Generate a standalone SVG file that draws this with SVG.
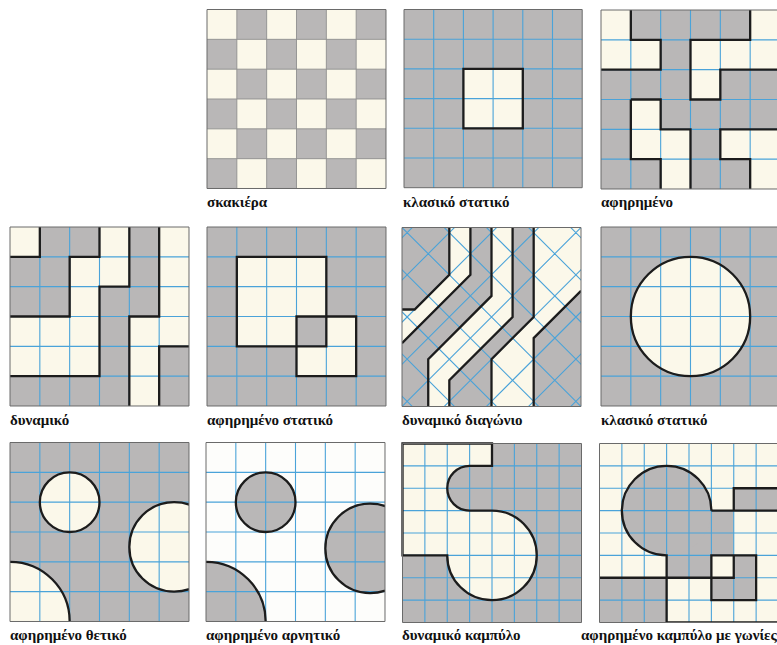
<svg xmlns="http://www.w3.org/2000/svg" width="777" height="645" viewBox="0 0 777 645">
<style>
.g{fill:#b9b7b7}
.c{fill:#fbf8ea}
.w{fill:#fdfdfb}
.bl{fill:none;stroke:#4aa3d9;stroke-width:1.1}
.cg{fill:none;stroke:#8e8e8e;stroke-width:0.9}
.k{fill:none;stroke:#1c1c1c;stroke-width:2.3;stroke-linejoin:miter;vector-effect:non-scaling-stroke}
.fr{fill:none;stroke:#6a6a6a;stroke-width:1;vector-effect:non-scaling-stroke}
text{font-family:"Liberation Serif","DejaVu Serif",serif;font-weight:bold;font-size:15px;fill:#111}
</style>
<defs>
<path id="g6" vector-effect="non-scaling-stroke" d="M1 0V6M2 0V6M3 0V6M4 0V6M5 0V6M0 1H6M0 2H6M0 3H6M0 4H6M0 5H6"/>
<path id="g8" vector-effect="non-scaling-stroke" d="M1 0V8M2 0V8M3 0V8M4 0V8M5 0V8M6 0V8M7 0V8M0 1H8M0 2H8M0 3H8M0 4H8M0 5H8M0 6H8M0 7H8"/>
<clipPath id="c6"><rect width="6" height="6"/></clipPath>
<clipPath id="c8"><rect width="8" height="8"/></clipPath>
<clipPath id="cp"><rect width="179" height="179"/></clipPath>
</defs>

<g id="p1-skakiera" transform="translate(207 9.5) scale(29.833)">
<rect class="c" width="6" height="6"/>
<path class="g" d="M1 0h1v1h-1zM3 0h1v1h-1zM5 0h1v1h-1zM0 1h1v1h-1zM2 1h1v1h-1zM4 1h1v1h-1zM1 2h1v1h-1zM3 2h1v1h-1zM5 2h1v1h-1zM0 3h1v1h-1zM2 3h1v1h-1zM4 3h1v1h-1zM1 4h1v1h-1zM3 4h1v1h-1zM5 4h1v1h-1zM0 5h1v1h-1zM2 5h1v1h-1zM4 5h1v1h-1z"/>
<use href="#g6" class="cg"/>
<rect class="fr" width="6" height="6"/>
</g>

<g id="p2-klasiko-statiko" transform="translate(404 9.5) scale(29.7)">
<rect class="g" width="6" height="6"/>
<rect class="c" x="2" y="2" width="2" height="2"/>
<use href="#g6" class="bl"/>
<rect class="k" x="2" y="2" width="2" height="2"/>
<rect class="fr" width="6" height="6"/>
</g>

<g id="p3-afirimeno" transform="translate(601 10) scale(29.833)">
<rect class="g" width="6" height="6"/>
<path class="c" d="M0 0H1V1H2V2H0ZM5 0H6V2H4V3H3V1H5ZM1 3H2V4H3V6H2V5H1ZM4 4H6V6H5V5H4Z"/>
<use href="#g6" class="bl"/>
<path class="k" d="M1 0V1H2V2H0M5 0V1H3V3H4V2H6M1 3H2V4H3V6M1 3V5H2V6M6 4H4V5H5V6"/>
<rect class="fr" width="6" height="6"/>
</g>

<g id="p4-dynamiko" transform="translate(10 227) scale(29.833)">
<rect class="c" width="6" height="6"/>
<path class="g" d="M1 0H3V1H1ZM0 1H2V3H0ZM4 0H5V3H4V6H0V5H3V2H4ZM5 4H6V6H5Z"/>
<use href="#g6" class="bl"/>
<path class="k" d="M1 0V1H0M3 0V1H2V3H0M4 0V2H3V5H0M5 0V3H4V6M6 4H5V6"/>
<rect class="fr" width="6" height="6"/>
</g>

<g id="p5-afirimeno-statiko" transform="translate(207 227) scale(29.833)">
<rect class="g" width="6" height="6"/>
<rect class="c" x="1" y="1" width="3" height="3"/>
<rect class="c" x="3" y="3" width="2" height="2"/>
<rect class="g" x="3" y="3" width="1" height="1"/>
<use href="#g6" class="bl"/>
<rect class="k" x="1" y="1" width="3" height="3"/>
<rect class="k" x="3" y="3" width="2" height="2"/>
<rect class="fr" width="6" height="6"/>
</g>

<g id="p6-dynamiko-diagonio" transform="translate(402 227.5)">
<g clip-path="url(#cp)">
<rect class="c" width="179" height="179"/>
<path class="g" d="M0 0H47.32V47.32L12.64 82H0ZM68.41 0H89.5V68.41L26.23 131.68V179H0V115.73L68.41 47.32ZM110.59 0H131.68V89.5L89.5 131.68V179H47.32V152.77L110.59 89.5ZM179 63.27V179H131.68V110.59Z"/>
<path class="bl" d="M-178.7 -10L21.3 190M-136.5 -10L63.5 190M-94.4 -10L105.6 190M-52.2 -10L147.8 190M-10 -10L190 190M32.2 -10L232.2 190M74.4 -10L274.4 190M116.5 -10L316.5 190M158.7 -10L358.7 190M20.3 -10L-179.7 190M62.5 -10L-137.5 190M104.6 -10L-95.4 190M146.8 -10L-53.2 190M189 -10L-11 190M231.2 -10L31.2 190M273.4 -10L73.4 190M315.5 -10L115.5 190M357.7 -10L157.7 190"/>
<path class="k" d="M47.32 0V47.32L12.64 82H0M68.41 0V47.32L0 115.73M89.5 0V68.41L26.23 131.68V179M110.59 0V89.5L47.32 152.77V179M131.68 0V89.5L89.5 131.68V179M179 63.27L131.68 110.59V179"/>
</g>
<rect class="fr" width="179" height="179"/>
</g>

<g id="p7-klasiko-statiko-kyklos" transform="translate(601 227) scale(29.833)">
<rect class="g" width="6" height="6"/>
<circle class="c" cx="3" cy="3" r="2"/>
<use href="#g6" class="bl"/>
<circle class="k" cx="3" cy="3" r="2"/>
<rect class="fr" width="6" height="6"/>
</g>

<g id="p8-afirimeno-thetiko" transform="translate(10 442.5) scale(29.833)">
<g clip-path="url(#c6)">
<rect class="g" width="6" height="6"/>
<circle class="c" cx="2" cy="2" r="1"/>
<circle class="c" cx="5.5" cy="3.5" r="1.5"/>
<circle class="c" cx="0" cy="6" r="2"/>
<use href="#g6" class="bl"/>
<circle class="k" cx="2" cy="2" r="1"/>
<circle class="k" cx="5.5" cy="3.5" r="1.5"/>
<circle class="k" cx="0" cy="6" r="2"/>
</g>
<rect class="fr" width="6" height="6"/>
</g>

<g id="p9-afirimeno-arnitiko" transform="translate(206 442.5) scale(29.833)">
<g clip-path="url(#c6)">
<rect class="w" width="6" height="6"/>
<circle class="g" cx="2" cy="2" r="1"/>
<circle class="g" cx="5.5" cy="3.55" r="1.5"/>
<circle class="g" cx="0" cy="6" r="2"/>
<use href="#g6" class="bl"/>
<circle class="k" cx="2" cy="2" r="1"/>
<circle class="k" cx="5.5" cy="3.55" r="1.5"/>
<circle class="k" cx="0" cy="6" r="2"/>
</g>
<rect class="fr" width="6" height="6"/>
</g>

<g id="p10-dynamiko-kampylo" transform="translate(402.5 443.5) scale(22.375)">
<rect class="g" width="8" height="8"/>
<path class="c" d="M0 0H4V1H3A1 1 0 0 0 3 3H4A2 2 0 1 1 2 5H0Z"/>
<use href="#g8" class="bl"/>
<path class="k" d="M0 0H4V1H3A1 1 0 0 0 3 3H4A2 2 0 1 1 2 5H0Z"/>
<rect class="fr" width="8" height="8"/>
</g>

<g id="p11-afirimeno-kampylo-gonies" transform="translate(599.5 443.5) scale(22.375)">
<g clip-path="url(#c8)">
<rect class="c" width="8" height="8"/>
<path class="g" d="M3 3H6V5H7V7H5V6H3ZM0 6H3V8H0ZM6 2H8V3H6Z"/>
<rect class="c" x="5" y="5" width="1" height="1"/>
<circle class="g" cx="3" cy="3" r="2"/>
<use href="#g8" class="bl"/>
<path class="k" d="M5 3A2 2 0 1 0 3 5V8H8M5 3H8M6 3V2H8M0 6H6V5M5 5H7V7H5Z"/>
</g>
<rect class="fr" width="8" height="8"/>
</g>

<g id="labels">
<text x="207" y="206.5">σκακιέρα</text>
<text x="403" y="206.5">κλασικό στατικό</text>
<text x="601" y="206.5">αφηρημένο</text>
<text x="10" y="424.5">δυναμικό</text>
<text x="207" y="424.5">αφηρημένο στατικό</text>
<text x="402" y="424.5">δυναμικό διαγώνιο</text>
<text x="601" y="424.5">κλασικό στατικό</text>
<text x="10" y="639.5">αφηρημένο θετικό</text>
<text x="206" y="639.5">αφηρημένο αρνητικό</text>
<text x="402" y="639.5">δυναμικό καμπύλο</text>
<text x="581" y="639.5">αφηρημένο καμπύλο με γωνίες</text>
</g>
</svg>
